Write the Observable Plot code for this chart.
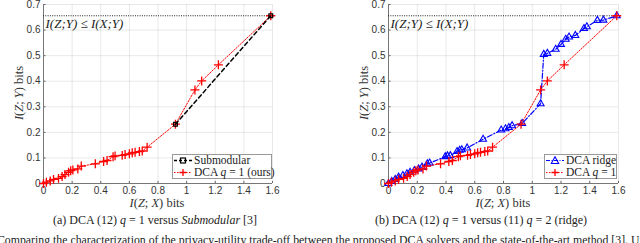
<!DOCTYPE html>
<html><head><meta charset="utf-8">
<script src="https://cdn.jsdelivr.net/npm/d3@7"></script>
<script src="https://cdn.jsdelivr.net/npm/@observablehq/plot@0.6"></script>
<style>
body{margin:0;background:#fff;}
#c{position:relative;width:640px;height:243px;overflow:hidden;background:#fff;font-family:"Liberation Serif","Times New Roman",serif;color:#222;}
.abs{position:absolute;white-space:nowrap;}
.lbl{font-size:12.5px;color:#333;line-height:1;}
.leg{position:absolute;background:#fff;border:1px solid #999;font-size:11.5px;padding:0px 2px 0px 1px;line-height:11.5px;box-sizing:border-box;white-space:nowrap;}
.leg svg{vertical-align:-1px;margin-right:2px;}
.cap{font-size:12px;line-height:1;}
.body{font-size:11.8px;line-height:1;}
</style></head><body>
<div id="c"></div>
<script>
const xTicks = [0,0.2,0.4,0.6,0.8,1,1.2,1.4,1.6];
const yTicks = [0,0.1,0.2,0.3,0.4,0.5,0.6,0.7];
const boundIXY = 0.656;

const submodX = [0.922, 1.588];
const submodY = [0.232, 0.656];

const dcaX = [0,0.02,0.047,0.07,0.105,0.13,0.15,0.175,0.19,0.205,0.24,0.264,0.362,0.42,0.444,0.486,0.5,0.55,0.57,0.6,0.62,0.64,0.67,0.69,0.724,0.922,1.058,1.105,1.222,1.588];
const dcaY = [0,0.005,0.01,0.016,0.02,0.027,0.035,0.044,0.05,0.053,0.057,0.068,0.077,0.086,0.09,0.105,0.108,0.11,0.113,0.116,0.12,0.122,0.125,0.127,0.142,0.232,0.366,0.401,0.464,0.656];

const ridgeX = [0,0.023,0.047,0.07,0.1,0.128,0.15,0.18,0.21,0.233,0.27,0.286,0.395,0.41,0.43,0.477,0.495,0.51,0.547,0.658,0.784,0.814,0.837,0.86,0.93,1.058,1.08,1.105,1.163,1.2,1.233,1.256,1.3,1.36,1.38,1.453,1.495,1.588];
const ridgeY = [0,0.008,0.016,0.025,0.031,0.038,0.044,0.05,0.057,0.064,0.077,0.08,0.105,0.108,0.109,0.125,0.13,0.132,0.139,0.173,0.209,0.214,0.219,0.226,0.235,0.312,0.505,0.509,0.525,0.544,0.564,0.573,0.579,0.606,0.613,0.638,0.639,0.656];

const zip = (xs, ys) => xs.map((x,i)=>({x, y: ys[i]}));
const submod = zip(submodX, submodY);
const dca = zip(dcaX, dcaY);
const ridge = zip(ridgeX, ridgeY);

const fmt = d => String(+d.toFixed(1));

function base(marginLeft, marginRight, seriesMarks){
  return Plot.plot({
    width: 320, height: 212,
    marginLeft, marginRight, marginTop: 4, marginBottom: 29,
    x: {domain: [0, 1.6]},
    y: {domain: [0, 0.7]},
    style: {fontFamily: "'Liberation Sans', Arial, sans-serif", fontSize: "10px", color: "#333", background: "transparent", overflow: "visible"},
    marks: [
      Plot.gridX(xTicks, {stroke: "#000", strokeOpacity: 0.09}),
      Plot.gridY(yTicks, {stroke: "#000", strokeOpacity: 0.09}),
      Plot.axisX(xTicks, {tickSize: 0, tickPadding: 3, tickFormat: fmt, label: null}),
      Plot.axisY(yTicks, {tickSize: 0, tickPadding: 3, tickFormat: fmt, label: null}),
      Plot.ruleX(xTicks, {x: d => d, y1: 0, y2: 0.008, stroke: "#666"}),
      Plot.ruleY(yTicks, {y: d => d, x1: 0, x2: 0.018, stroke: "#666"}),
      Plot.ruleX([0], {stroke: "#777"}),
      Plot.ruleY([0], {stroke: "#777"}),
      Plot.ruleY([boundIXY], {stroke: "#222", strokeDasharray: "1,1.3", strokeWidth: 1}),
      Plot.text(["I(Z;Y) ≤ I(X;Y)"], {x: 0, y: boundIXY, text: d => d, dx: 2, dy: 3, textAnchor: "start", lineAnchor: "top", fontFamily: "'Liberation Serif', serif", fontStyle: "italic", fontSize: 13, fill: "#222"}),
      ...seriesMarks
    ]
  });
}

const dcaMarks = [
  Plot.line(dca, {x: "x", y: "y", stroke: "#ff0000", strokeWidth: 1, strokeDasharray: "1.5,1.5"}),
  Plot.dot(dca, {x: "x", y: "y", symbol: "plus", r: 3, stroke: "#ff0000", strokeWidth: 1.3, fill: "none"})
];

const left = base(43, 48, [
  ...dcaMarks,
  Plot.line(submod, {x: "x", y: "y", stroke: "#000", strokeWidth: 1.5, strokeDasharray: "4,3"}),
  Plot.dot(submod, {x: "x", y: "y", symbol: "square2", r: 2.4, stroke: "#000", strokeWidth: 1.2, fill: "none"})
]);

const right = base(68, 22, [
  Plot.line(ridge, {x: "x", y: "y", stroke: "#0000ff", strokeWidth: 1.2, strokeDasharray: "5,2,1,2"}),
  Plot.dot(ridge, {x: "x", y: "y", symbol: "triangle2", r: 3.3, stroke: "#0000ff", strokeWidth: 1.1, fill: "none"}),
  ...dcaMarks
]);

const c = document.getElementById("c");
left.style.position = "absolute"; left.style.left = "0px"; left.style.top = "0px";
right.style.position = "absolute"; right.style.left = "320px"; right.style.top = "0px";
c.appendChild(left); c.appendChild(right);

function add(html, cls, css){
  const d = document.createElement("div");
  d.className = "abs " + (cls||"");
  d.innerHTML = html;
  Object.assign(d.style, css);
  c.appendChild(d);
  return d;
}
const xlab = "<i>I</i>(<i>Z</i>; <i>X</i>) bits";
const ylab = "<i>I</i>(<i>Z</i>; <i>Y</i>) bits";
add(xlab, "lbl", {left: "157px", top: "197px", transform: "translateX(-50%)"});
add(xlab, "lbl", {left: "503px", top: "197px", transform: "translateX(-50%)"});
add(ylab, "lbl", {left: "19px", top: "93px", transform: "translate(-50%,-50%) rotate(-90deg)"});
add(ylab, "lbl", {left: "364px", top: "93px", transform: "translate(-50%,-50%) rotate(-90deg)"});

add("(a) DCA (12) <i>q</i> = 1 versus <i>Submodular</i> [3]", "cap", {left: "155px", top: "214px", transform: "translateX(-50%)"});
add("(b) DCA (12) <i>q</i> = 1 versus (11) <i>q</i> = 2 (ridge)", "cap", {left: "481px", top: "214px", transform: "translateX(-50%)"});
add("Comparing the characterization of the privacy-utility trade-off between the proposed DCA solvers and the state-of-the-art method [3]. Un", "body", {left: "-3px", top: "235px"});

function sym(kind, color, dash, w){
  let m = "";
  if (kind === "square") m = `<rect x="6.5" y="2" width="5" height="5" fill="none" stroke="${color}" stroke-width="1.2"/>`;
  if (kind === "plus") m = `<path d="M9,1V8M5.5,4.5H12.5" stroke="${color}" stroke-width="1.3"/>`;
  if (kind === "tri") m = `<path d="M9,0.8L12.7,7.5H5.3Z" fill="none" stroke="${color}" stroke-width="1.1"/>`;
  return `<svg width="18" height="9"><line x1="0" y1="4.5" x2="18" y2="4.5" stroke="${color}" stroke-width="${w}" stroke-dasharray="${dash}"/>${m}</svg>`;
}
const leg = (html, css) => { const d = document.createElement("div"); d.className = "leg"; d.innerHTML = html; Object.assign(d.style, css); c.appendChild(d); };
leg(`<div>${sym("square","#000","3,2",1.5)}Submodular</div><div>${sym("plus","#ff0000","1.5,1.5",1)}DCA <i>q</i> = 1 (ours)</div>`, {left: "172px", top: "154px", width: "100px", height: "25px"});
leg(`<div>${sym("tri","#0000ff","4,1.5,1,1.5",1.2)}DCA ridge</div><div>${sym("plus","#ff0000","1.5,1.5",1)}DCA <i>q</i> = 1</div>`, {left: "544px", top: "154px", width: "73px", height: "25px"});
</script>
</body></html>
